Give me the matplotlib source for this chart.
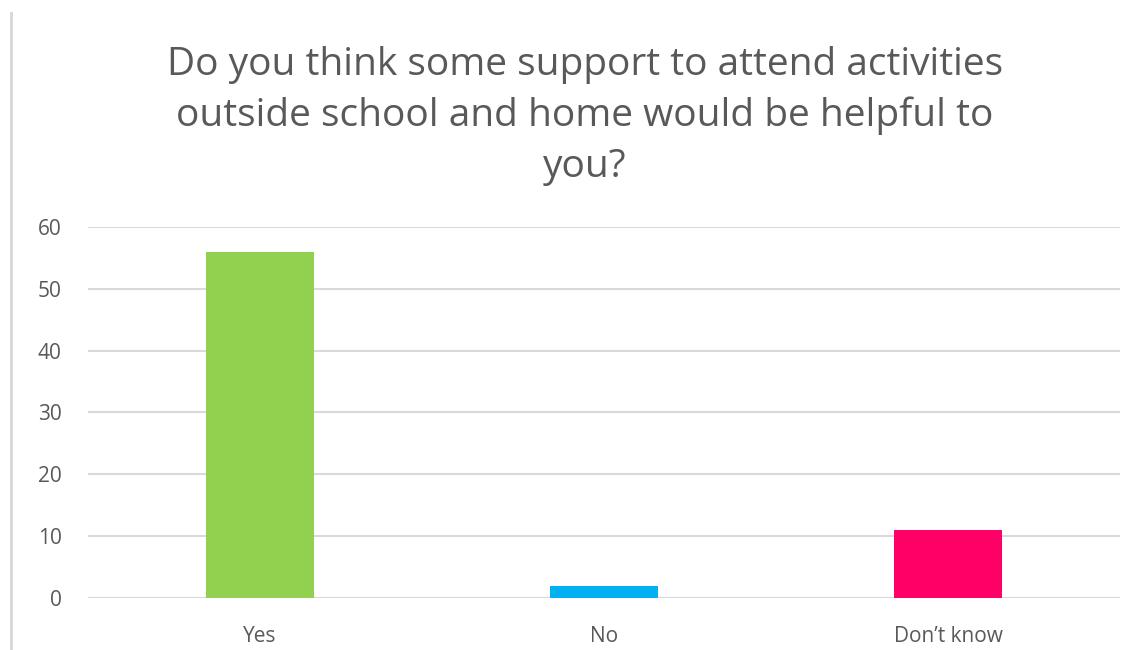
import numpy as np
import matplotlib
matplotlib.use('Agg')
import matplotlib.pyplot as plt
from matplotlib.lines import Line2D

plt.rcParams['font.family'] = ['Open Sans', 'DejaVu Sans']

categories = ['Yes', 'No', 'Don\u2019t know']
counts = [56, 2, 11]
bar_colors = ['#92d050', '#00b0f0', '#ff0066']
y_ticks = [0, 10, 20, 30, 40, 50, 60]

title = ('Do you think some support to attend activities\n'
         'outside school and home would be helpful to\n'
         'you?')

fig = plt.figure(figsize=(11.42, 6.5), dpi=100)
ax = fig.add_axes([0.077, 0.080, 0.904, 0.571])

x = np.arange(len(categories))
ax.bar(x, counts, width=0.315, color=bar_colors, zorder=3)

ax.set_xlim(-0.5, len(categories) - 0.5)
ax.set_ylim(0, 60)
ax.set_yticks(y_ticks)
ax.set_xticks(x)
ax.set_xticklabels(categories)
ax.grid(axis='y', color='#d9d9d9', linewidth=1.5, zorder=0)
ax.axhline(0, color='#d9d9d9', linewidth=1.5, zorder=1)
for s in ax.spines.values():
    s.set_visible(False)
ax.tick_params(axis='both', length=0, labelsize=15, colors='#595959')
ax.tick_params(axis='y', pad=19)
ax.tick_params(axis='x', pad=20)

fig.text(0.512, 0.930, title, ha='center', va='top', fontsize=28,
         color='#595959', linespacing=1.45)

# frame edge on the left
fig.add_artist(Line2D([0.0096, 0.0096], [0.0, 0.98], color='#d6d6d6',
                      linewidth=2, transform=fig.transFigure))

fig.savefig('out.png', dpi=100)
